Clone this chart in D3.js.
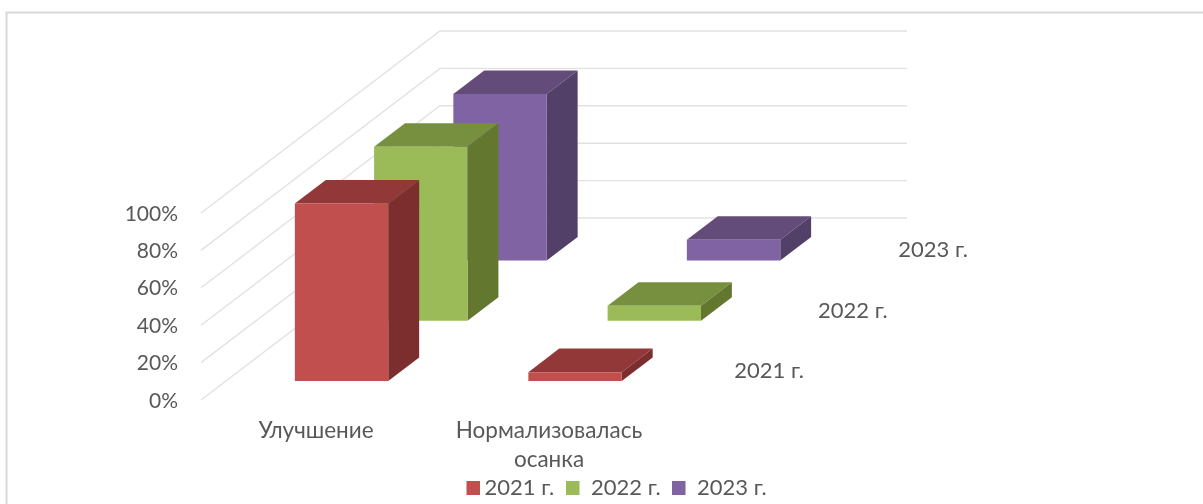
<!DOCTYPE html>
<html lang="ru"><head><meta charset="utf-8">
<script src="https://cdn.jsdelivr.net/npm/d3@7/dist/d3.min.js"></script>
<style>
html,body{margin:0;padding:0;background:#fff;overflow:hidden}
svg{display:block}
text{font-family:Lato,"Open Sans",sans-serif;fill:#595959;font-size:22px}
text.tick{font-size:21px}
text.cat{font-size:22.5px}
</style></head><body>
<svg id="c" width="1203" height="504"></svg>
<script>
const categories = ["Улучшение", ["Нормализовалась", "осанка"]];
const seriesNames = ["2021 г.", "2022 г.", "2023 г."];
const values2021 = [95, 4.8];
const values2022 = [93, 8];
const values2023 = [89, 11];
const tickValues = [0, 20, 40, 60, 80, 100];
const faceColors = ["#c0504d", "#9bbb59", "#8064a2"];
const topColors  = ["#933937", "#779041", "#644c7a"];
const sideColors = ["#7b2f2d", "#63772f", "#533f68"];

const svg = d3.select("#c");
const defs = svg.append("defs");
defs.append("filter").attr("id","soft").attr("x","-5%").attr("y","-5%").attr("width","110%").attr("height","110%")
  .append("feGaussianBlur").attr("stdDeviation",0.55);
const root = svg.append("g").attr("filter","url(#soft)");

root.append("path").attr("d","M1203,12.5H6.5V504").attr("fill","none").attr("stroke","#d9d9d9").attr("stroke-width",2);

// oblique projection built from D3 scales
const x = d3.scaleBand().domain([0,1]).range([-1,466]).paddingInner(0.6).paddingOuter(0.3);
const depth = d3.scaleBand().domain([0,1,2]).range([0,1]).paddingInner(0.61).paddingOuter(0.313);
const y = d3.scaleLinear().domain([0,100]).range([0,187]);
const dx = d3.scaleLinear().domain([0,1]).range([201,440]);
const dy = d3.scaleLinear().domain([0,1]).range([400,218]);
const P = (xv,d,v) => [dx(d)+xv, dy(d)-y(v)];

// gridlines on side and back walls
const line = d3.line();
root.append("g").selectAll("path").data(tickValues).join("path")
  .attr("d", v => line([P(0,0,v),P(0,1,v),P(467,1,v)]))
  .attr("fill","none").attr("stroke","#e2e2e2").attr("stroke-width",1.4);

// axis labels
root.append("g").selectAll("text").data(tickValues).join("text").attr("class","tick")
  .attr("x",178).attr("y",v => P(0,0,v)[1]+7.5).attr("text-anchor","end")
  .text(v => v+"%");

// bars, back series first
const allValues = [values2021, values2022, values2023];
const bars = [];
[2,1,0].forEach(s => [0,1].forEach(c => bars.push({s,c,v:allValues[s][c]})));
const g = root.append("g").selectAll("g").data(bars).join("g");
const geo = b => {
  const x0=x(b.c), x1=x0+x.bandwidth(), d0=depth(b.s), d1=d0+depth.bandwidth();
  return {x0,x1,d0,d1};
};
const poly = pts => line(pts)+"Z";
g.append("path").attr("fill",b=>topColors[b.s]).attr("d",b=>{const q=geo(b);
  return poly([P(q.x0,q.d0,b.v),P(q.x1,q.d0,b.v),P(q.x1,q.d1,b.v),P(q.x0,q.d1,b.v)]);});
g.append("path").attr("fill",b=>sideColors[b.s]).attr("d",b=>{const q=geo(b);
  return poly([P(q.x1,q.d0,0),P(q.x1,q.d1,0),P(q.x1,q.d1,b.v),P(q.x1,q.d0,b.v)]);});
g.append("path").attr("fill",b=>faceColors[b.s]).attr("d",b=>{const q=geo(b);
  return poly([P(q.x0,q.d0,0),P(q.x1,q.d0,0),P(q.x1,q.d0,b.v),P(q.x0,q.d0,b.v)]);});

// category labels
const catCenters = [316, 549];
categories.forEach((c,i)=>{
  const lines = Array.isArray(c)?c:[c];
  lines.forEach((t,j)=>root.append("text").attr("class","cat").attr("x",catCenters[i]).attr("y",437.5+j*29)
    .attr("text-anchor","middle").text(t));
});

// depth axis labels
const depthLabelGap = [26, 30.5, 31.5];
root.append("g").selectAll("text").data(seriesNames).join("text")
  .attr("x",(t,i)=>P(467,depth(i)+depth.bandwidth()/2,0)[0]+depthLabelGap[i])
  .attr("y",(t,i)=>P(467,depth(i)+depth.bandwidth()/2,0)[1]+8.5)
  .text(t=>t);

// legend
const legendX = [466.5, 566, 672];
const lg = root.append("g").selectAll("g").data(seriesNames).join("g")
  .attr("transform",(t,i)=>`translate(${legendX[i]},481)`);
lg.append("rect").attr("width",13.5).attr("height",14).attr("fill",(t,i)=>faceColors[i]);
lg.append("text").attr("x",(t,i)=>i==0?18:25).attr("y",14).text(t=>t);
</script>
</body></html>
